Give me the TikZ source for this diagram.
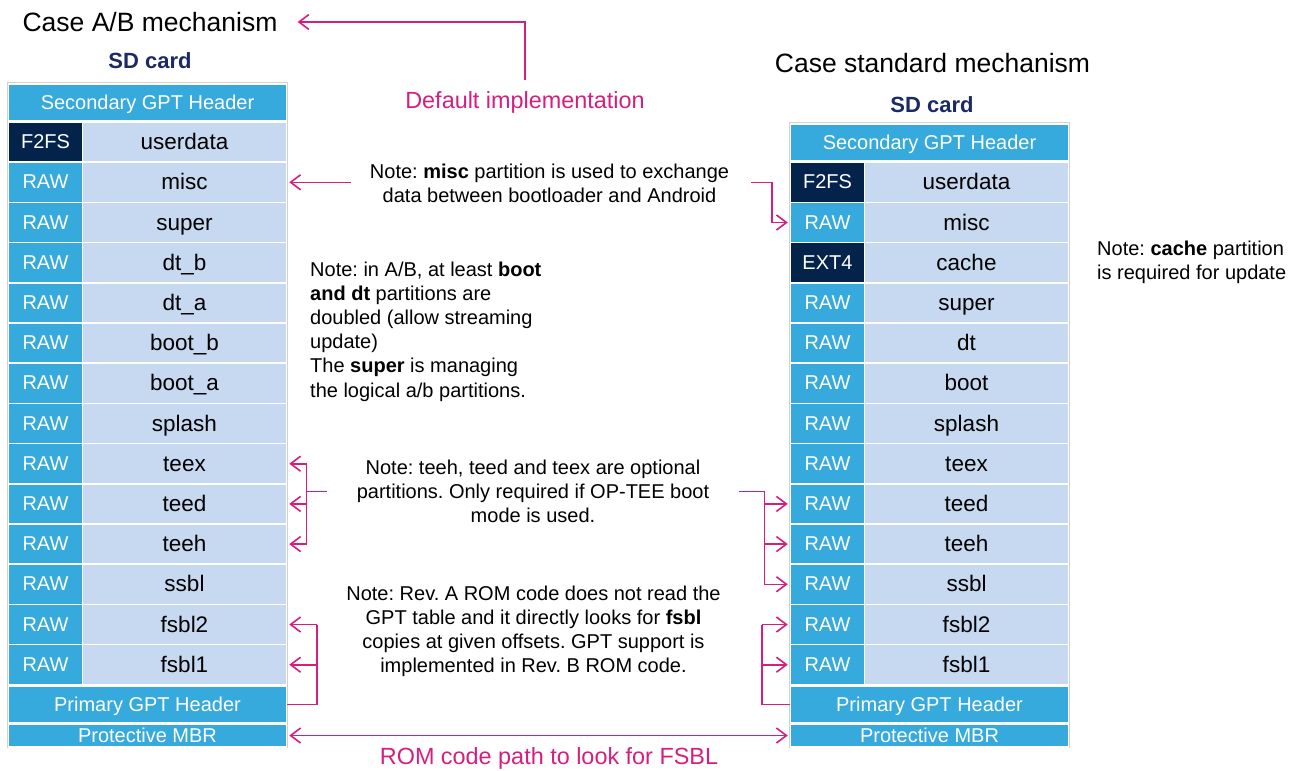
\documentclass[tikz,border=0pt]{standalone}
\usepackage{fontspec}
\setmainfont{Liberation Sans}
\usetikzlibrary{positioning,calc,arrows.meta}
\frenchspacing

\definecolor{stblue}{RGB}{54,169,221}
\definecolor{stnavy}{RGB}{3,35,75}
\definecolor{stpale}{RGB}{198,217,240}
\definecolor{stpink}{RGB}{214,30,126}
\definecolor{sdnavy}{RGB}{28,42,100}

\tikzset{
  cellbox/.style={draw=white, line width=1.5pt, inner sep=0pt, minimum height=40.2pt},
  typecell/.style={cellbox, minimum width=74pt, text=white, text height=16pt, text depth=3pt, font=\fontsize{20}{24}\selectfont},
  namecell/.style={cellbox, fill=stpale, minimum width=204pt, text height=18pt, text depth=3pt, font=\fontsize{22.5}{27}\selectfont},
  gptcell/.style={cellbox, fill=stblue, minimum width=278pt, text=white, text height=16pt, text depth=3pt, font=\fontsize{20}{24}\selectfont},
  lbl/.style={inner sep=0pt},
  notetxt/.style={lbl, font=\fontsize{20}{24.2}\selectfont},
  pinklbl/.style={lbl, text=stpink, font=\fontsize{23.4}{28}\selectfont},
  pinkline/.style={draw=stpink, line width=1.6pt},
  pinkarrow/.style={pinkline, -{Straight Barb[length=10pt,width=15pt]}},
  pinkboth/.style={pinkline, {Straight Barb[length=10pt,width=15pt]}-{Straight Barb[length=10pt,width=15pt]}}
}

\begin{document}
\begin{tikzpicture}[x=1pt,y=-1pt]
\useasboundingbox (0,0) rectangle (1302,771);

\node[lbl, font=\fontsize{26.5}{30}\selectfont] (titleAB) at (150,22) {Case A/B mechanism};
\node[lbl, font=\fontsize{26.5}{30}\selectfont] (titleStd) at (932.5,63) {Case standard mechanism};
\node[lbl, text=sdnavy, font=\bfseries\fontsize{22}{26}\selectfont] (sdL) at (150,61) {SD card};
\node[lbl, text=sdnavy, font=\bfseries\fontsize{22}{26}\selectfont] (sdR) at (932,105) {SD card};
\node[pinklbl] (defImpl) at (525,102) {Default implementation};

\draw[gray!35, line width=0.8pt] (7.5,82.5) rectangle (287.5,747.5);
\draw[gray!35, line width=0.8pt] (789.5,122.5) rectangle (1069.5,747.5);

\node[gptcell, minimum height=37pt] (secL) at (147.5,102.5) {Secondary GPT Header};
\foreach \t/\n/\c [count=\i] in {F2FS/userdata/stnavy, RAW/misc/stblue, RAW/super/stblue, RAW/dt\_b/stblue,
  RAW/dt\_a/stblue, RAW/boot\_b/stblue, RAW/boot\_a/stblue, RAW/splash/stblue, RAW/teex/stblue,
  RAW/teed/stblue, RAW/teeh/stblue, RAW/ssbl/stblue, RAW/fsbl2/stblue, RAW/fsbl1/stblue} {
  \node[typecell, fill=\c] (la\i) at (45.5,{142.1+40.2*(\i-1)}) {\t};
  \node[namecell] (lb\i) at (184.5,{142.1+40.2*(\i-1)}) {\n};
}
\node[gptcell, minimum height=37pt] (primL) at (147.5,704.5) {Primary GPT Header};
\node[gptcell, minimum height=23pt] (mbrL) at (147.5,735.5) {Protective MBR};

\node[gptcell, minimum height=37pt] (secR) at (929.5,142.5) {Secondary GPT Header};
\foreach \t/\n/\c [count=\i] in {F2FS/userdata/stnavy, RAW/misc/stblue, EXT4/cache/stnavy, RAW/super/stblue,
  RAW/dt/stblue, RAW/boot/stblue, RAW/splash/stblue, RAW/teex/stblue, RAW/teed/stblue,
  RAW/teeh/stblue, RAW/ssbl/stblue, RAW/fsbl2/stblue, RAW/fsbl1/stblue} {
  \node[typecell, fill=\c] (ra\i) at (827.5,{182.3+40.2*(\i-1)}) {\t};
  \node[namecell] (rb\i) at (966.5,{182.3+40.2*(\i-1)}) {\n};
}
\node[gptcell, minimum height=37pt] (primR) at (929.5,704.5) {Primary GPT Header};
\node[gptcell, minimum height=23pt] (mbrR) at (929.5,735.5) {Protective MBR};

\node[notetxt, align=center] (noteMisc) at (549.5,183) {Note: \textbf{misc} partition is used to exchange\\data between bootloader and Android};
\node[notetxt, align=left, anchor=west] (noteAB) at (310,331.5) {Note: in A/B, at least \textbf{boot}\\\textbf{and dt} partitions are\\doubled (allow streaming\\update)\\The \textbf{super} is managing\\the logical a/b partitions.};
\node[notetxt, align=left, anchor=west] (noteCache) at (1097,262) {Note: \textbf{cache} partition\\is required for update};
\node[notetxt, align=center] (noteTee) at (533,491.5) {Note: teeh, teed and teex are optional\\partitions. Only required if OP-TEE boot\\mode is used.};
\node[notetxt, align=center] (noteFsbl) at (533.5,631.5) {Note: Rev. A ROM code does not read the\\GPT table and it directly looks for \textbf{fsbl}\\copies at given offsets. GPT support is\\implemented in Rev. B ROM code.};
\node[pinklbl] (romPath) at (549,758) {ROM code path to look for FSBL};

\draw[pinkarrow] ([yshift=11pt]defImpl.north) |- ([xshift=20pt]titleAB.east);

\draw[pinkarrow] ($(noteMisc.west |- lb2.east)+(-19,0)$) -- ([xshift=2pt]lb2.east);
\draw[pinkarrow] ($(noteMisc.east |- lb2.east)+(22,0)$) -- ++(21,0) |- ([xshift=-2pt]ra2.west);

\coordinate (teeL) at ($(noteTee.west)+(-50,0)$);
\draw[pinkline] ($(noteTee.west)+(-30,0)$) -- (teeL);
\draw[pinkline] (teeL |- lb9.east) -- (teeL |- lb11.east);
\foreach \i in {9,10,11} \draw[pinkarrow] (teeL |- lb\i.east) -- ([xshift=2pt]lb\i.east);

\coordinate (teeR) at ($(noteTee.east)+(55,0)$);
\draw[pinkline] ($(noteTee.east)+(30,0)$) -- (teeR) -- (teeR |- ra11.west);
\foreach \i in {9,10,11} \draw[pinkarrow] (teeR |- ra\i.west) -- ([xshift=-2pt]ra\i.west);

\coordinate (fsL) at ($(primL.east)+(30,0)$);
\draw[pinkline] (primL.east) -- (fsL) -- (fsL |- lb13.east);
\foreach \i in {13,14} \draw[pinkarrow] (fsL |- lb\i.east) -- ([xshift=2pt]lb\i.east);

\coordinate (fsR) at ($(primR.west)+(-28,0)$);
\draw[pinkline] (primR.west) -- (fsR) -- (fsR |- ra12.west);
\foreach \i in {12,13} \draw[pinkarrow] (fsR |- ra\i.west) -- ([xshift=-2pt]ra\i.west);

\draw[pinkboth] ([xshift=2pt]mbrL.east) -- ([xshift=-2pt]mbrR.west);
\end{tikzpicture}
\end{document}
